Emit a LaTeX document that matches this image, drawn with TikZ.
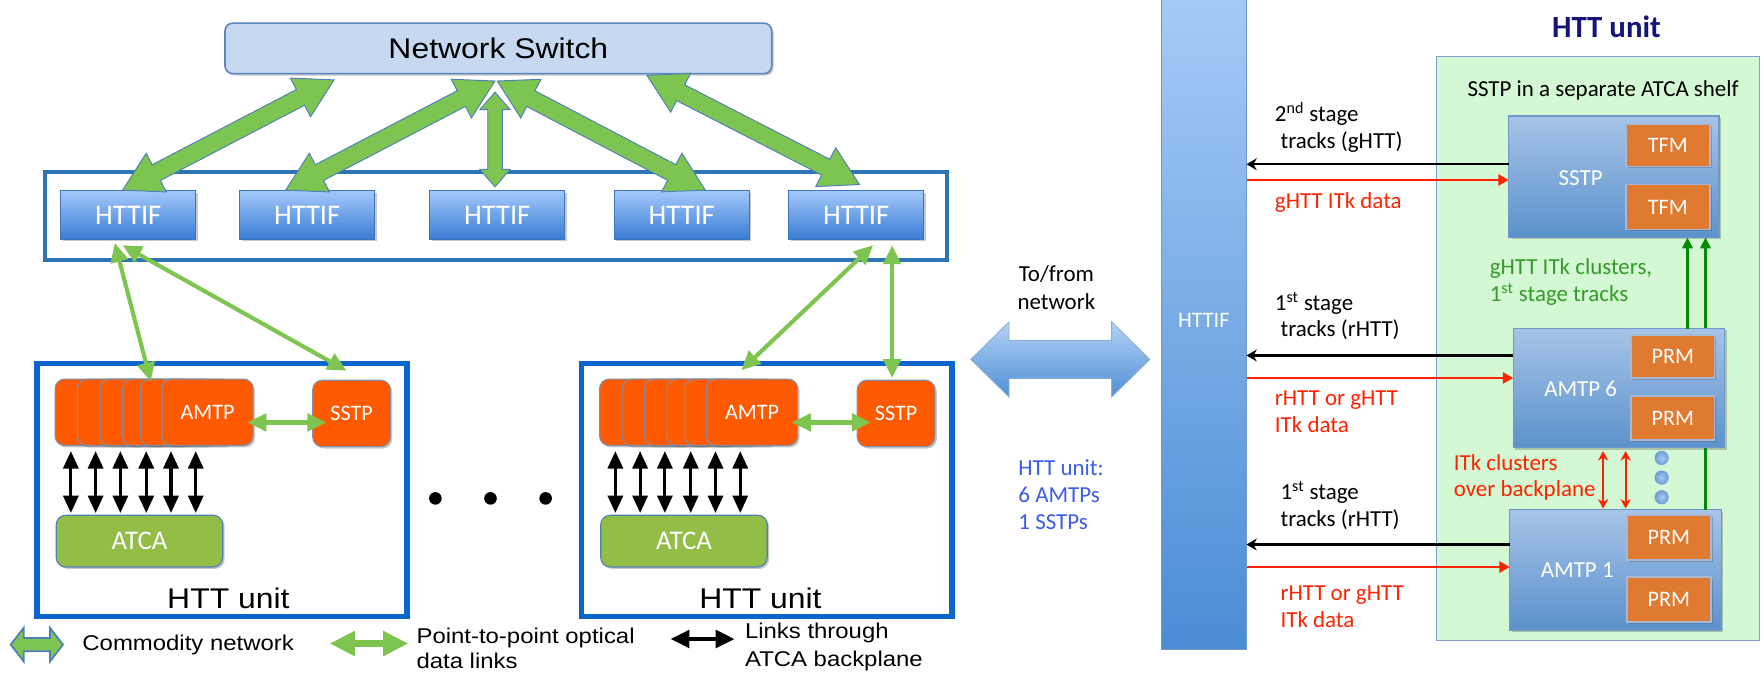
\documentclass[tikz,border=0pt]{standalone}
\usepackage{fontspec}
\setmainfont{Carlito}
\newfontfamily\carl{Carlito}
\newfontfamily\arialx[FakeStretch=1.12]{Liberation Sans}
\usetikzlibrary{calc,arrows.meta,shadows}
\definecolor{nsfill}{HTML}{C6D9F1}
\definecolor{nsdraw}{HTML}{5B86C0}
\definecolor{frameblue}{HTML}{2E75B6}
\definecolor{unitblue}{HTML}{0A66CC}
\definecolor{hitop}{HTML}{A3C8FA}
\definecolor{hibot}{HTML}{3A7DD6}
\definecolor{hidraw}{HTML}{3E74B8}
\definecolor{agreen}{HTML}{7DC450}
\definecolor{aedge}{HTML}{4F7FB8}
\definecolor{amtporange}{HTML}{FF5A00}
\definecolor{cardedge}{HTML}{7F8FA9}
\definecolor{atcagreen}{HTML}{92BE48}
\definecolor{bartop}{HTML}{A8CBF7}
\definecolor{barbot}{HTML}{4A8DD5}
\definecolor{boxtop}{HTML}{A6C4E8}
\definecolor{boxbot}{HTML}{5C92CC}
\definecolor{boxedge}{HTML}{6F98C9}
\definecolor{modorange}{HTML}{E07A30}
\definecolor{modedge}{HTML}{A9B9D3}
\definecolor{panelgreen}{HTML}{D3F8D3}
\definecolor{paneledge}{HTML}{7F9FCF}
\definecolor{redarr}{HTML}{FF2200}
\definecolor{darkgreen}{HTML}{008A00}
\definecolor{greentext}{HTML}{359A2A}
\definecolor{bluetext}{HTML}{3D5CE6}
\definecolor{navy}{HTML}{14147A}
\definecolor{dotblue}{HTML}{7EAAE0}
\definecolor{dotin}{HTML}{A9C8F0}
\definecolor{dotout}{HTML}{6F9FDA}
\definecolor{bigtop}{HTML}{B4D2F5}
\definecolor{bigbot}{HTML}{4F8FD6}

% fat double arrow: #1 style, #2 A, #3 B, #4 shaft half width, #5 head half width, #6 head length
\newcommand{\fatarrow}[6]{%
  \path ($(#2)!#6!(#3)$) coordinate (fa) ($(#3)!#6!(#2)$) coordinate (fb);
  \path[#1] (#2) -- ($(fa)!#5!90:(#3)$) -- ($(fa)!#4!90:(#3)$) -- ($(fb)!#4!-90:(#2)$)
    -- ($(fb)!#5!-90:(#2)$) -- (#3) -- ($(fb)!#5!90:(#2)$) -- ($(fb)!#4!90:(#2)$)
    -- ($(fa)!#4!-90:(#3)$) -- ($(fa)!#5!-90:(#3)$) -- cycle;}

% one HTT unit: #1 prefix, #2 x offset
\newcommand{\httunit}[2]{%
  \node[unitbox, sz={329}{225}] (#1-box) at (#2+197.5,435.5) {};
  \node[card, sz={81}{59}, anchor=north west] (#1-c1) at (#2+49,337) {};
  \node[card, sz={81}{59}, anchor=north west] (#1-c2) at (#2+69,337) {};
  \node[card, sz={81}{59}, anchor=north west] (#1-c3) at (#2+89,337) {};
  \node[card, sz={81}{59}, anchor=north west] (#1-c4) at (#2+109,337) {};
  \node[card, sz={81}{59}, anchor=north west] (#1-c5) at (#2+125,337) {};
  \node[card, sz={81}{59}, anchor=north west] (#1-amtp) at (#2+144,337) {AMTP};
  \node[card, sz={69}{59}] (#1-sstp) at (#2+312.5,367.5) {SSTP};
  \node[atcabox, sz={148}{46}] (#1-atca) at (#2+124,481) {ATCA};
  \foreach \dx in {13,35,57,80,102,124}
    \draw[blk] ($(#1-atca.north west)+(\dx,-2)$) -- ($(#1-atca.north west)+(\dx,-57)$);
  \draw[p2p] ($(#1-amtp.east)+(-5,9)$) -- ($(#1-sstp.west)+(12,8)$);
}

\begin{document}
\begin{tikzpicture}[x=0.025cm, y=-0.025cm,
  sz/.style 2 args={minimum width={#1*0.025cm}, minimum height={#2*0.025cm}, inner sep=0pt, outer sep=0pt},
  shad/.style={drop shadow={opacity=0.3, shadow xshift=1.2pt, shadow yshift=-1.2pt, fill=black!70}},
  nsbox/.style={draw=nsdraw, line width=1pt, fill=nsfill, rounded corners=5pt, shad},
  framebox/.style={draw=frameblue, line width=2.8pt},
  httif/.style={draw=hidraw, line width=0.6pt, top color=hitop, bottom color=hibot, text=white,
    font=\carl\fontsize{18}{20}\selectfont, shad},
  unitbox/.style={draw=unitblue, line width=3.6pt},
  card/.style={draw=cardedge, line width=0.7pt, fill=amtporange, rounded corners=6pt, text=white,
    font=\carl\fontsize{14}{16}\selectfont, shad},
  atcabox/.style={draw=aedge, line width=0.7pt, fill=atcagreen, rounded corners=6pt, text=white,
    font=\carl\fontsize{17}{19}\selectfont, shad},
  p2p/.style={draw=agreen, line width=2.6pt, arrows={Triangle[length=12pt,width=11pt]-Triangle[length=12pt,width=11pt]}},
  blk/.style={draw=black, line width=2pt, arrows={Triangle[length=11pt,width=9.5pt]-Triangle[length=11pt,width=9.5pt]}},
  fatgreen/.style={fill=agreen, draw=aedge, line width=0.6pt},
  bigblue/.style={top color=bigtop, bottom color=bigbot, draw=boxedge!80, line width=0.6pt},
  bar/.style={top color=bartop, bottom color=barbot, draw=boxedge, line width=0.5pt},
  bluebox/.style={top color=boxtop, bottom color=boxbot, draw=boxedge, line width=0.8pt, shad},
  modbox/.style={fill=modorange, draw=modedge, line width=1.2pt, text=white,
    font=\carl\fontsize{14}{16}\selectfont, shad},
  panel/.style={fill=panelgreen, draw=paneledge, line width=0.8pt},
  lab/.style={font=\carl\fontsize{14.5}{17}\selectfont, inner sep=0pt, anchor=mid west},
  boxlbl/.style={font=\carl\fontsize{14.5}{17}\selectfont, inner sep=0pt, text=white},
  lgd/.style={font=\arialx\fontsize{13.5}{16}\selectfont, inner sep=0pt, anchor=mid west},
  blkarr/.style={draw=black, line width=1.4pt, arrows={-Stealth[length=6.5pt,width=7.5pt]}},
  redarr/.style={draw=redarr, line width=1.8pt, arrows={-Triangle[length=6.5pt,width=7pt]}},
  garr/.style={draw=darkgreen, line width=1.7pt, arrows={-Triangle[length=7pt,width=6.5pt]}},
  rdarr/.style={draw=redarr, line width=1.4pt, arrows={Stealth[length=6pt,width=6.5pt]-Stealth[length=6pt,width=6.5pt]}},
  bdot/.style={circle, minimum size=0.3cm, inner sep=0pt, inner color=dotin, outer color=dotout, draw=dotout, line width=0.4pt},
  kdot/.style={circle, minimum size=0.28cm, inner sep=0pt, fill=black}
]
\useasboundingbox (0,0) rectangle (1568,601);

% ---------------- left part ----------------
\node[nsbox, sz={486}{45}, font=\arialx\fontsize{18}{20}\selectfont] (ns) at (443,43) {Network Switch};
\node[framebox, sz={802}{78}] (frame) at (441,192) {};
\foreach \i/\x in {1/114,2/273,3/442,4/606,5/761}
  \node[httif, sz={120}{43}] (h\i) at (\x,191) {HTTIF};

% commodity network links
\coordinate (c1t) at ($(ns.south west)+(97,5.5)$);
\coordinate (c1b) at ($(h1.north)+(-5,-0.5)$);
\coordinate (c2t) at ($(ns.south)+(-3,6.5)$);
\coordinate (c2b) at ($(h2.north)+(-19,-0.5)$);
\coordinate (c3t) at ($(ns.south)+(-3,16.5)$);
\coordinate (c3b) at ($(h3.north)+(-2,-3.5)$);
\coordinate (c4t) at ($(ns.south)+(-1,6.5)$);
\coordinate (c4b) at ($(h4.north)+(21,-0.5)$);
\coordinate (c5t) at ($(ns.south west)+(375,1.5)$);
\coordinate (c5b) at ($(h5.north)+(3,-5.5)$);
\fatarrow{fatgreen}{c1t}{c1b}{5.6pt}{13.8pt}{24pt}
\fatarrow{fatgreen}{c2t}{c2b}{5.6pt}{13.8pt}{24pt}
\fatarrow{fatgreen}{c4t}{c4b}{5.6pt}{13.8pt}{24pt}
\fatarrow{fatgreen}{c5t}{c5b}{5.6pt}{13.8pt}{24pt}
\fatarrow{fatgreen}{c3t}{c3b}{4.6pt}{9.6pt}{11pt}

% HTT units
\httunit{L}{0}
\httunit{R}{484}
\node[font=\arialx\fontsize{18}{20}\selectfont, inner sep=0pt] (Lname) at (203,532) {HTT unit};
\node[font=\arialx\fontsize{18}{20}\selectfont, inner sep=0pt] (Rname) at (676,532) {HTT unit};

% point-to-point optical links
\draw[p2p] ($(h1.south)+(-12,3.5)$) -- ($(L-c4.north west)+(25,2)$);
\draw[p2p] ($(h1.south)+(-5,5.5)$) -- ($(L-sstp.north)+(-4.5,-8.5)$);
\draw[p2p] ($(h5.south)+(15,5.5)$) -- ($(R-amtp.north)+(-9.5,-8)$);
\draw[p2p] ($(h5.south)+(32,5.5)$) -- ($(R-sstp.north)+(-3.5,-2)$);

% dots
\node[kdot] (k1) at (387,443) {};
\node[kdot] (k2) at (436,443) {};
\node[kdot] (k3) at (485,443) {};

% legend
\coordinate (lg1a) at (9.5,573);
\coordinate (lg1b) at (56,573);
\fatarrow{fill=agreen, draw=aedge, line width=1.1pt}{lg1a}{lg1b}{4.2pt}{10.6pt}{8.2pt}
\node[lgd] (lgt1) at (73,575) {Commodity network};
\coordinate (lg2a) at (293,572);
\coordinate (lg2b) at (363,572);
\draw[draw=agreen, line width=5pt, arrows={Triangle[length=16pt,width=15pt]-Triangle[length=16pt,width=15pt]}] (lg2a) -- (lg2b);
\node[lgd] (lgt2) at (370,569) {Point-to-point optical};
\node[lgd] (lgt2b) at (370,591) {data links};
\coordinate (lg3a) at (596,568);
\coordinate (lg3b) at (653,568);
\draw[draw=black, line width=2.8pt, arrows={Triangle[length=12pt,width=11pt]-Triangle[length=12pt,width=11pt]}] (lg3a) -- (lg3b);
\node[lgd] (lgt3) at (662,564) {Links through};
\node[lgd] (lgt3b) at (662,589) {ATCA backplane};

% ---------------- middle ----------------
\coordinate (ba1) at (863,319.5);
\coordinate (ba2) at (1022,319.5);
\fatarrow{bigblue}{ba1}{ba2}{12pt}{23.7pt}{24.1pt}
\node[lab, anchor=center] (tf1) at (939,244) {To/from};
\node[lab, anchor=center] (tf2) at (939,268) {network};
\node[lab, text=bluetext] (bt1) at (905,419) {HTT unit:};
\node[lab, text=bluetext] (bt2) at (905,443) {6 AMTPs};
\node[lab, text=bluetext] (bt3) at (905,467) {1 SSTPs};

% ---------------- right part ----------------
\node[bar, sz={76}{590}, anchor=south] (bar) at (1070,577) {};
\node[boxlbl, font=\carl\fontsize{14}{16}\selectfont] (barlbl) at (1070,285) {HTTIF};

\node[panel, sz={287}{519}] (panel) at (1420.5,309.5) {};
\node[font=\carl\bfseries\fontsize{19.5}{22}\selectfont, text=navy, inner sep=0pt] (ttl) at (1428,24) {HTT unit};
\node[lab, anchor=center] (shelf) at (1425,80) {SSTP in a separate ATCA shelf};

\node[bluebox, sz={187}{108}] (sstp) at (1434.5,157) {};
\node[boxlbl] (sstplbl) at (1405,158) {SSTP};
\node[modbox, sz={75}{38}] (tfm1) at (1482.5,129) {TFM};
\node[modbox, sz={75}{40}] (tfm2) at (1482.5,184) {TFM};

\node[bluebox, sz={188}{107}] (a1) at (1436,506.5) {};
\node[boxlbl] (a1lbl) at (1402,507) {AMTP 1};
\node[modbox, sz={75}{40}] (prm3) at (1483.5,478) {PRM};
\node[modbox, sz={75}{40}] (prm4) at (1483.5,533) {PRM};

\coordinate (g2) at ($(a1.north west)+(174,0)$);
\draw[garr] (g2) -- (sstp.south -| g2);

\node[bluebox, sz={188}{106}] (a6) at (1439,345) {};
\node[boxlbl] (a6lbl) at (1405,346) {AMTP 6};
\node[modbox, sz={74}{38}] (prm1) at (1487,317) {PRM};
\node[modbox, sz={74}{39}] (prm2) at (1487,371.5) {PRM};

\coordinate (g1) at ($(a6.north west)+(155,0)$);
\draw[garr] (g1) -- (sstp.south -| g1);

% links to HTTIF
\coordinate (kk1) at ($(sstp.west)+(0,-11)$);
\coordinate (rr1) at ($(sstp.west)+(0,3)$);
\coordinate (kk2) at ($(a6.west)+(0,-29)$);
\coordinate (rr2) at ($(a6.west)+(0,-9)$);
\coordinate (kk3) at ($(a1.west)+(0,-22.5)$);
\coordinate (rr3) at ($(a1.west)+(0,-2.5)$);
\draw[blkarr] (kk1) -- (bar.east |- kk1);
\draw[redarr] (bar.east |- rr1) -- (rr1);
\draw[blkarr] (kk2) -- (bar.east |- kk2);
\draw[redarr] (bar.east |- rr2) -- (rr2);
\draw[blkarr] (kk3) -- (bar.east |- kk3);
\draw[redarr] (bar.east |- rr3) -- (rr3);

% backplane links
\draw[rdarr] ($(a6.south west)+(80,3)$) -- ($(a1.north west)+(83,-1)$);
\draw[rdarr] ($(a6.south west)+(100,3)$) -- ($(a1.north west)+(103,-1)$);
\node[bdot] (bd1) at (1477,407) {};
\node[bdot] (bd2) at (1477,424.5) {};
\node[bdot] (bd3) at (1477,442) {};

% labels
\node[lab] (l1a) at (1133,105) {2\textsuperscript{nd} stage};
\node[lab] (l1b) at (1138,129) {tracks (gHTT)};
\node[lab, text=redarr] (l1c) at (1133,182) {gHTT ITk data};
\node[lab] (l2a) at (1133,273) {1\textsuperscript{st} stage};
\node[lab] (l2b) at (1138,296) {tracks (rHTT)};
\node[lab, text=redarr] (l2c) at (1133,357) {rHTT or gHTT};
\node[lab, text=redarr] (l2d) at (1133,381) {ITk data};
\node[lab] (l3a) at (1138,441) {1\textsuperscript{st} stage};
\node[lab] (l3b) at (1138,465) {tracks (rHTT)};
\node[lab, text=redarr] (l3c) at (1138,530) {rHTT or gHTT};
\node[lab, text=redarr] (l3d) at (1138,554) {ITk data};
\node[lab, text=greentext] (gt1) at (1324,241) {gHTT ITk clusters,};
\node[lab, text=greentext] (gt2) at (1324,265) {1\textsuperscript{st} stage tracks};
\node[lab, text=redarr] (rt1) at (1292,415) {ITk clusters};
\node[lab, text=redarr] (rt2) at (1292,438) {over backplane};
\end{tikzpicture}
\end{document}
